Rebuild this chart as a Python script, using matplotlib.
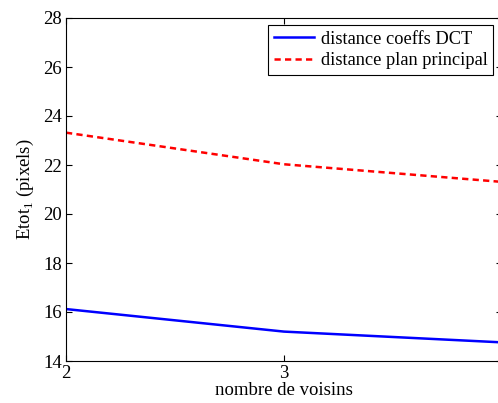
import matplotlib
matplotlib.use('Agg')
import matplotlib.pyplot as plt

plt.rcParams['font.family'] = ['Liberation Serif', 'DejaVu Serif']
plt.rcParams['mathtext.fontset'] = 'custom'
plt.rcParams['mathtext.rm'] = 'Liberation Serif'

# nombre de voisins et erreurs
voisins = [2, 3, 4]
err_dct = [16.12, 15.2, 14.76]
err_plan = [23.32, 22.03, 21.31]

fig = plt.figure(figsize=(4.98, 4.03), dpi=100)
# l'axe depasse a droite de la figure
ax = fig.add_axes([66/498, 42/403, 436/498, 343/403])

ax.plot(voisins, err_dct, color='#0000ff', lw=1.8, label='distance coeffs DCT')
ax.plot(voisins, err_plan, color='#ff0000', lw=1.8, ls=(0, (2.5, 1.7)), label='distance plan principal')

ax.set_xlim(2, 4)
ax.set_ylim(14, 28)
ax.set_xticks([2, 3, 4])
ax.set_yticks(range(14, 29, 2))
ax.tick_params(direction='in', top=True, right=True, labelsize=13.5, length=4, width=0.8, pad=3)
for s in ax.spines.values():
    s.set_linewidth(0.8)

ax.set_xlabel('nombre de voisins', fontsize=13.5, labelpad=0)
ax.set_ylabel('Etot$_1$ (pixels)', fontsize=13.5, labelpad=5)

leg = ax.legend(loc='upper right', bbox_to_anchor=(493/498, 1 - 25/403),
                bbox_transform=fig.transFigure, fontsize=13.2, fancybox=False,
                edgecolor='black', framealpha=1, handlelength=2.2,
                borderpad=0.3, labelspacing=0.25, handletextpad=0.35, borderaxespad=0)
leg.get_frame().set_linewidth(0.8)

fig.savefig('out.png', dpi=100)
